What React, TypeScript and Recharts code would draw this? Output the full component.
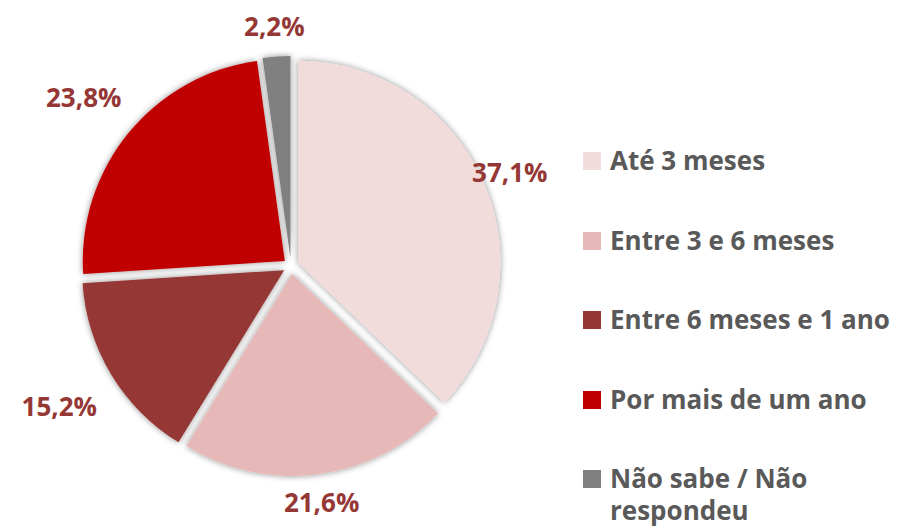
import React from 'react';
import { PieChart, Pie, Cell, Legend } from 'recharts';

const categories = ['Até 3 meses', 'Entre 3 e 6 meses', 'Entre 6 meses e 1 ano', 'Por mais de um ano', 'Não sabe / Não respondeu'];
const shares = [37.1, 21.6, 15.2, 23.8, 2.2];
const colors = ['#F2DCDB', '#E6B9B8', '#953735', '#C00000', '#808080'];

const data = categories.map((name, i) => ({ name, value: shares[i] }));

const CX = 291;
const CY = 266;
const R = 202;
const EXPLODE = 8;
const RAD = Math.PI / 180;
const FONT = '"Open Sans", sans-serif';

// mid angle of each slice (clockwise from 12 o'clock), used only to push the slice outward
const total = shares.reduce((a, b) => a + b, 0);
const midAngles = shares.map((v, i) => {
  const before = shares.slice(0, i).reduce((a, b) => a + b, 0);
  return 90 - ((before + v / 2) / total) * 360;
});

const renderLabel = (props: any) => {
  const { midAngle, index } = props;
  const ux = Math.cos(-midAngle * RAD);
  const uy = Math.sin(-midAngle * RAD);
  const dist = 238 + 38 * Math.max(0, -ux);
  return (
    <text
      x={CX + dist * ux}
      y={CY + dist * uy}
      fill="#953735"
      textAnchor="middle"
      dominantBaseline="central"
      style={{ fontFamily: FONT, fontWeight: 700, fontSize: 26 }}
    >
      {shares[index].toFixed(1).replace('.', ',') + '%'}
    </text>
  );
};

const renderLegend = () => (
  <div style={{ width: 318, fontFamily: FONT, fontWeight: 700, fontSize: 26, color: '#595959' }}>
    {categories.map((name, i) => (
      <div key={name} style={{ position: 'relative', paddingLeft: 27, lineHeight: '32px', marginBottom: 47.5 }}>
        <span style={{ position: 'absolute', left: 0, top: 8, width: 18, height: 18, background: colors[i] }} />
        {name}
      </div>
    ))}
  </div>
);

export default function App() {
  return (
    <div style={{ position: 'absolute', left: 0, top: 0, background: '#fff' }}>
      <PieChart width={901} height={532} margin={{ top: 0, right: 0, bottom: 0, left: 0 }}>
        <defs>
          <filter id="sliceShadow" x="-20%" y="-20%" width="140%" height="140%">
            <feDropShadow dx="0" dy="0" stdDeviation="3" floodColor="#000" floodOpacity="0.45" />
          </filter>
        </defs>
        {shares.map((_, i) => (
          <Pie
            key={i}
            data={data}
            dataKey="value"
            cx={CX + EXPLODE * Math.cos(-midAngles[i] * RAD)}
            cy={CY + EXPLODE * Math.sin(-midAngles[i] * RAD)}
            outerRadius={R}
            startAngle={90}
            endAngle={-270}
            stroke="none"
            isAnimationActive={false}
          >
            {data.map((d, j) => (
              <Cell
                key={d.name}
                fill={j === i ? colors[j] : 'none'}
                stroke="none"
                filter={j === i ? 'url(#sliceShadow)' : undefined}
              />
            ))}
          </Pie>
        ))}
        <Pie
          data={data}
          dataKey="value"
          cx={CX}
          cy={CY}
          outerRadius={R}
          startAngle={90}
          endAngle={-270}
          stroke="none"
          fill="none"
          label={renderLabel}
          labelLine={false}
          isAnimationActive={false}
        >
          {data.map((d) => (
            <Cell key={d.name} fill="none" stroke="none" />
          ))}
        </Pie>
        <Legend
          content={renderLegend}
          wrapperStyle={{ position: 'absolute', left: 583, top: 144, width: 318, bottom: 'auto', right: 'auto' }}
        />
      </PieChart>
    </div>
  );
}
